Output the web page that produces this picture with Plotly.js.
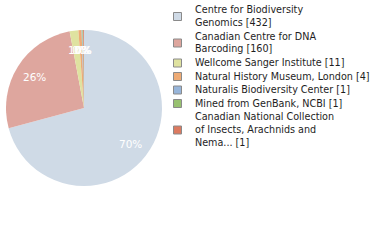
<!DOCTYPE html>
<html>
<head>
<meta charset="utf-8">
<script src="https://cdn.plot.ly/plotly-3.0.1.min.js"></script>
<style>
  html, body { margin: 0; padding: 0; background: #fff; }
  #chart { width: 380px; height: 240px; }
</style>
</head>
<body>
<div id="chart"></div>
<script>
// Specimen records by depositing institution
const institutions = [
  "Centre for Biodiversity Genomics",
  "Canadian Centre for DNA Barcoding",
  "Wellcome Sanger Institute",
  "Natural History Museum, London",
  "Naturalis Biodiversity Center",
  "Mined from GenBank, NCBI",
  "Canadian National Collection of Insects, Arachnids and Nema..."
];
const legendLines = [
  ["Centre for Biodiversity", "Genomics"],
  ["Canadian Centre for DNA", "Barcoding"],
  ["Wellcome Sanger Institute"],
  ["Natural History Museum, London"],
  ["Naturalis Biodiversity Center"],
  ["Mined from GenBank, NCBI"],
  ["Canadian National Collection", "of Insects, Arachnids and", "Nema..."]
];
const records = [432, 160, 11, 4, 1, 1, 1];
const sliceColors = ["#cfdae6", "#dea69e", "#dfe2a0", "#eeab75", "#97b5da", "#98c170", "#dc7a60"];

const W = 380, H = 240;
const cx = 84, cy = 108, R = 78;
const total = records.reduce((a, b) => a + b, 0);
const toY = (py) => 1 - py / H;

// percentage labels placed along each slice's mid-angle (clockwise from 12 o'clock)
const annotations = [];
let acc = 0;
records.forEach((v) => {
  const mid = (acc + v / 2) / total * 2 * Math.PI;
  acc += v;
  const r = R * 0.75;
  annotations.push({
    xref: "paper", yref: "paper",
    x: (cx + r * Math.sin(mid)) / W, y: toY(cy - r * Math.cos(mid)),
    xanchor: "center", yanchor: "middle",
    text: Math.floor(v / total * 100) + "%",
    showarrow: false,
    font: { family: "DejaVu Sans", size: 10.5, color: "#ffffff" }
  });
});

// legend: swatch plus wrapped label lines per institution
const shapes = [];
const lineGap = 13, entryGap = 13.5;
let ly = 9.5;
legendLines.forEach((lines, i) => {
  const label = lines.slice();
  label[label.length - 1] += " [" + records[i] + "]";
  const n = label.length;
  const centre = ly + (n - 1) * lineGap / 2 + 0.5;
  shapes.push({
    type: "rect", xref: "paper", yref: "paper",
    x0: 173.5 / W, x1: 181.5 / W,
    y0: toY(centre + 4), y1: toY(centre - 4),
    fillcolor: sliceColors[i],
    line: { color: "#8a8a8a", width: 1 }
  });
  label.forEach((t, k) => {
    annotations.push({
      xref: "paper", yref: "paper",
      x: 192.5 / W, y: toY(ly + k * lineGap),
      xanchor: "left", yanchor: "middle", align: "left",
      text: t,
      showarrow: false,
      font: { family: "DejaVu Sans Condensed", size: 10.7, color: "#1e1e1e" }
    });
  });
  ly += (n - 1) * lineGap + entryGap;
});

const data = [{
  type: "pie",
  labels: institutions,
  values: records,
  sort: false,
  direction: "clockwise",
  rotation: 0,
  marker: { colors: sliceColors, line: { width: 0 } },
  textinfo: "none",
  hoverinfo: "label+value+percent",
  domain: { x: [(cx - R) / W, (cx + R) / W], y: [toY(cy + R), toY(cy - R)] }
}];

const layout = {
  width: W, height: H,
  margin: { l: 0, r: 0, t: 0, b: 0 },
  paper_bgcolor: "#ffffff",
  showlegend: false,
  annotations: annotations,
  shapes: shapes
};

Plotly.newPlot("chart", data, layout, { displayModeBar: false, staticPlot: true });
</script>
</body>
</html>
